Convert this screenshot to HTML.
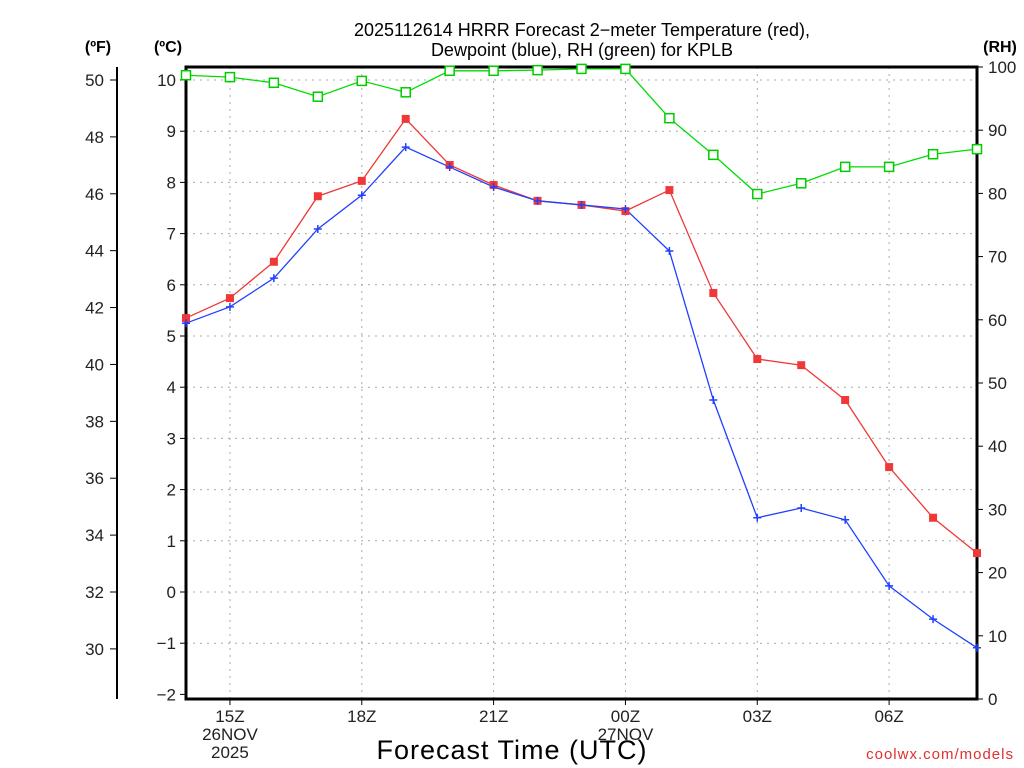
<!DOCTYPE html>
<html><head><meta charset="utf-8"><style>
html,body{margin:0;padding:0;background:#fff;}
svg{display:block;font-family:"Liberation Sans",sans-serif;}
</style></head><body>
<svg id="chart" width="1024" height="768" viewBox="0 0 1024 768" xmlns="http://www.w3.org/2000/svg">
<text x="582" y="36" text-anchor="middle" font-size="18" fill="#000">2025112614 HRRR Forecast 2−meter Temperature (red),</text>
<text x="582" y="56" text-anchor="middle" font-size="18" fill="#000">Dewpoint (blue), RH (green) for KPLB</text>
<text x="98" y="52" text-anchor="middle" font-size="16" font-weight="bold">(ºF)</text>
<text x="168" y="52" text-anchor="middle" font-size="16" font-weight="bold">(ºC)</text>
<text x="1000" y="52" text-anchor="middle" font-size="16" font-weight="bold">(RH)</text>
<text x="512" y="759" text-anchor="middle" font-size="27" letter-spacing="1">Forecast Time (UTC)</text>
<text x="1014" y="759" text-anchor="end" font-size="15" fill="#e03030" letter-spacing="1">coolwx.com/models</text>
<g id="grid"></g><g id="axes"></g><g id="series"></g>
</svg>
<script>
const hours = ["14Z","15Z","16Z","17Z","18Z","19Z","20Z","21Z","22Z","23Z","00Z","01Z","02Z","03Z","04Z","05Z","06Z","07Z","08Z"];
const tempC = [5.35,5.74,6.45,7.73,8.03,9.24,8.34,7.95,7.64,7.56,7.44,7.85,5.84,4.55,4.43,3.75,2.44,1.45,0.76];
const dewC = [5.25,5.57,6.13,7.09,7.75,8.69,8.30,7.91,7.64,7.56,7.48,6.66,3.75,1.45,1.64,1.41,0.12,-0.53,-1.09];
const rh = [98.7,98.4,97.5,95.3,97.8,96.0,99.4,99.4,99.5,99.7,99.7,91.9,86.1,79.9,81.6,84.2,84.2,86.2,87.0];
const cTicks = [-2,-1,0,1,2,3,4,5,6,7,8,9,10];
const fTicks = [30,32,34,36,38,40,42,44,46,48,50];
const rhTicks = [0,10,20,30,40,50,60,70,80,90,100];
const xLabels = [[1,"15Z","26NOV","2025"],[4,"18Z"],[7,"21Z"],[10,"00Z","27NOV"],[13,"03Z"],[16,"06Z"]];

const L=186,R=977,T=67,B=699;
const xS=i=>L+i*(R-L)/(hours.length-1);
const yC=c=>592-c*51.2;
const yF=f=>yC((f-32)*5/9);
const yRH=r=>B-r*(B-T)/100;
const NS="http://www.w3.org/2000/svg";
function mk(tag,attrs,parent,txt){const e=document.createElementNS(NS,tag);for(const k in attrs)e.setAttribute(k,attrs[k]);if(txt!==undefined)e.textContent=txt;parent.appendChild(e);return e;}
const grid=document.getElementById('grid'),axes=document.getElementById('axes'),ser=document.getElementById('series');
cTicks.forEach(c=>{
  const y=yC(c);
  if(c>-2&&c<=10){const g=mk('line',{x1:L,x2:R,y1:y,y2:y,stroke:'#aaa','stroke-dasharray':'2,5'},grid);
  
  }
  const tk=mk('line',{x1:L-6,x2:L,y1:y,y2:y,stroke:'#000'},axes);
  
  
  const t=mk('text',{x:L-10,y:y+6,'text-anchor':'end','font-size':'17',fill:'#222'},axes,c<0?'−'+(-c):c);
  
  
});
fTicks.forEach(f=>{
  const y=yF(f);
  const tk=mk('line',{x1:110,x2:117,y1:y,y2:y,stroke:'#000'},axes);
  
  
  const t=mk('text',{x:104,y:y+6,'text-anchor':'end','font-size':'17',fill:'#222'},axes,f);
  
  
});
rhTicks.forEach(r=>{
  const y=yRH(r);
  const tk=mk('line',{x1:R,x2:R+6,y1:y,y2:y,stroke:'#000'},axes);
  
  
  const t=mk('text',{x:R+11,y:y+6,'font-size':'17',fill:'#222'},axes,r);
  
  
});
xLabels.forEach(l=>{
  const x=xS(l[0]);
  const g=mk('line',{x1:x,x2:x,y1:T,y2:B,stroke:'#aaa','stroke-dasharray':'2,5'},grid);
  
  
  const tk=mk('line',{x1:x,x2:x,y1:B,y2:B+6,stroke:'#000'},axes);
  
  
  for(let k=1;k<l.length;k++){const t=mk('text',{x:x,y:B+23+(k-1)*18,'text-anchor':'middle','font-size':'17',fill:'#222'},axes,l[k]);
  
  }
});
const fa=mk('line',{x1:117,x2:117,y1:T,y2:B,stroke:'#000','stroke-width':2},axes);


const frame=mk('rect',{x:L,y:T,width:R-L,height:B-T,fill:'none',stroke:'#000','stroke-width':3},axes);



function line(vals,yf,color,name){
  const p=mk('polyline',{points:vals.map((v,i)=>xS(i)+','+yf(v)).join(' '),fill:'none',stroke:color,'stroke-width':1.3},ser);
  
  
}
line(rh,yRH,'#00dd00','rh');
line(tempC,yC,'#f03838','temperature');
line(dewC,yC,'#2040ff','dewpoint');
rh.forEach((v,i)=>{const m=mk('rect',{x:xS(i)-4.5,y:yRH(v)-4.5,width:9,height:9,fill:'#fff',stroke:'#00cc00','stroke-width':1.5},ser);
  
  });
tempC.forEach((v,i)=>{const m=mk('rect',{x:xS(i)-4,y:yC(v)-4,width:8,height:8,fill:'#f03838'},ser);
  
  });
dewC.forEach((v,i)=>{const m=mk('path',{d:`M${xS(i)-4},${yC(v)}h8M${xS(i)},${yC(v)-4}v8`,stroke:'#2040ff','stroke-width':1.5},ser);
  
  });
</script>
</body></html>
